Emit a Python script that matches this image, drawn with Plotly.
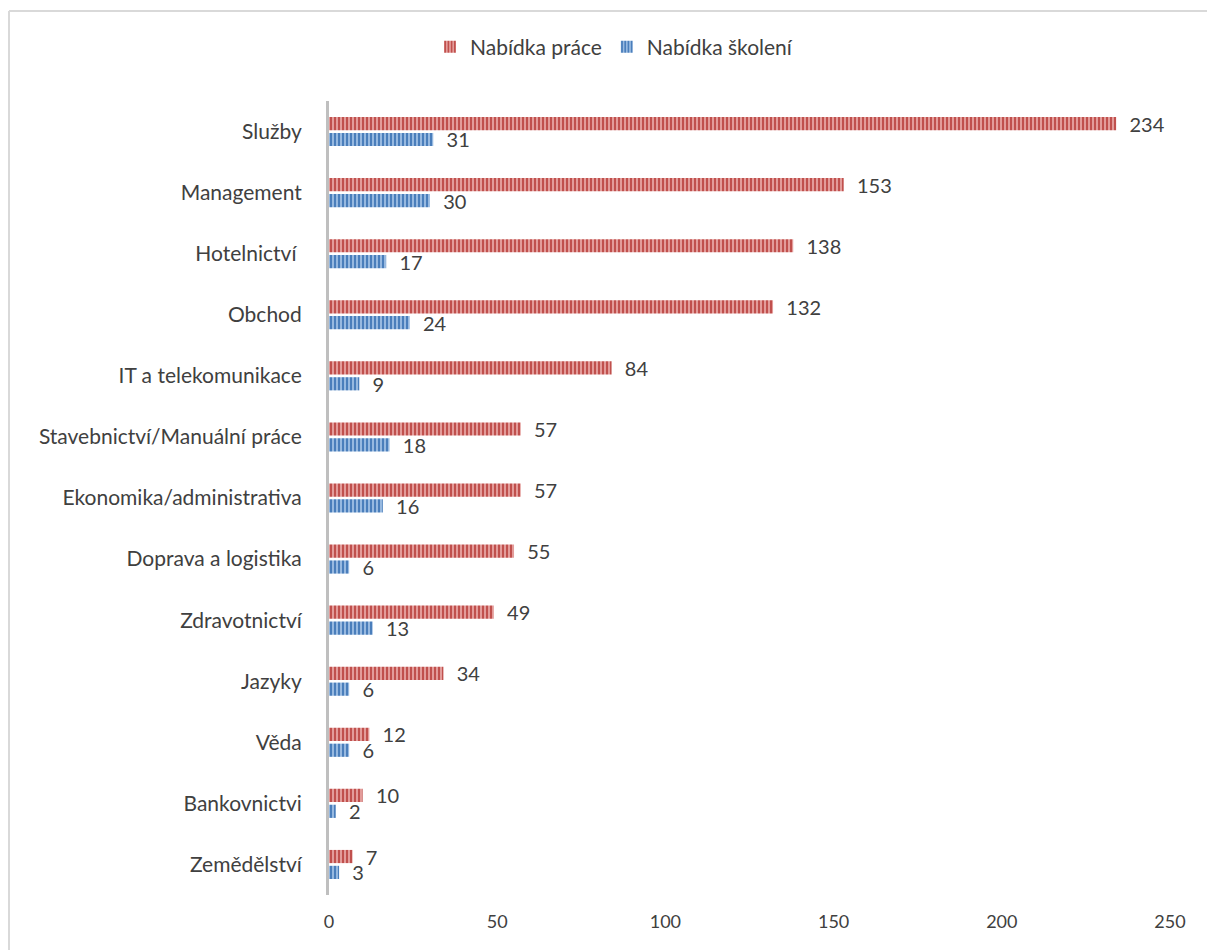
import plotly.graph_objects as go

# Job offers vs. training offers by sector
categories = [
    "Služby", "Management", "Hotelnictví ", "Obchod", "IT a telekomunikace",
    "Stavebnictví/Manuální práce", "Ekonomika/administrativa", "Doprava a logistika",
    "Zdravotnictví", "Jazyky", "Věda", "Bankovnictvi", "Zemědělství",
]
nabidka_prace = [234, 153, 138, 132, 84, 57, 57, 55, 49, 34, 12, 10, 7]
nabidka_skoleni = [31, 30, 17, 24, 9, 18, 16, 6, 13, 6, 6, 2, 3]
x_ticks = [0, 50, 100, 150, 200, 250]

W, H = 1207, 950
ML, MR, MT, MB = 329, 37, 101, 55
TXT = "#404040"
FONT = "Lato, 'Open Sans', sans-serif"

fig = go.Figure()
series = [
    ("Nabídka práce", nabidka_prace, "#C0504D", "#E39C9A"),
    ("Nabídka školení", nabidka_skoleni, "#4A7EBB", "#97B9E0"),
]
for name, vals, fg, bg in series:
    fig.add_trace(go.Bar(
        name=name, y=categories, x=vals, orientation="h",
        marker=dict(
            color=bg,
            line=dict(width=0),
            pattern=dict(shape="|", fgcolor=fg, bgcolor=bg, size=4, solidity=0.5, fillmode="replace"),
        ),
        text=[f"  {v}" for v in vals],
        textposition="outside",
        textfont=dict(size=20, color=TXT, family=FONT),
        constraintext="none",
        cliponaxis=False,
    ))

# thin grey frame lines (top and left) around the chart area
pw, ph = W - ML - MR, H - MT - MB
fx0 = (9 - ML) / pw
fy1 = 1 + (MT - 11) / ph
fig.add_shape(type="line", xref="paper", yref="paper",
              x0=fx0, x1=(W + 50 - ML) / pw, y0=fy1, y1=fy1,
              line=dict(color="#D9D9D9", width=2), layer="below")
fig.add_shape(type="line", xref="paper", yref="paper",
              x0=fx0, x1=fx0, y0=fy1, y1=-(MB + 50) / ph,
              line=dict(color="#D9D9D9", width=2), layer="below")

fig.update_layout(
    width=W, height=H,
    margin=dict(l=ML, r=MR, t=MT, b=MB, pad=0),
    paper_bgcolor="white", plot_bgcolor="white",
    barmode="group", bargap=0.48, bargroupgap=0.17,
    font=dict(family=FONT, color=TXT, size=18),
    showlegend=True,
    legend=dict(
        orientation="h", x=(614 - ML) / pw, xanchor="center",
        y=1 + (MT - 47) / ph, yanchor="middle",
        font=dict(size=21, color=TXT, family=FONT),
        itemwidth=30, traceorder="normal",
    ),
    xaxis=dict(
        range=[0, 250], tickvals=x_ticks, ticktext=[str(t) for t in x_ticks],
        showgrid=False, zeroline=False, showline=False, ticks="",
        tickfont=dict(size=18, color=TXT), ticklabelstandoff=14,
    ),
    yaxis=dict(
        categoryorder="array", categoryarray=categories, autorange="reversed",
        showgrid=False, zeroline=False, showline=True, linecolor="#BFBFBF", linewidth=3,
        ticks="", tickfont=dict(size=21, color=TXT), ticklabelstandoff=20,
    ),
)

fig.write_html("out.html")
